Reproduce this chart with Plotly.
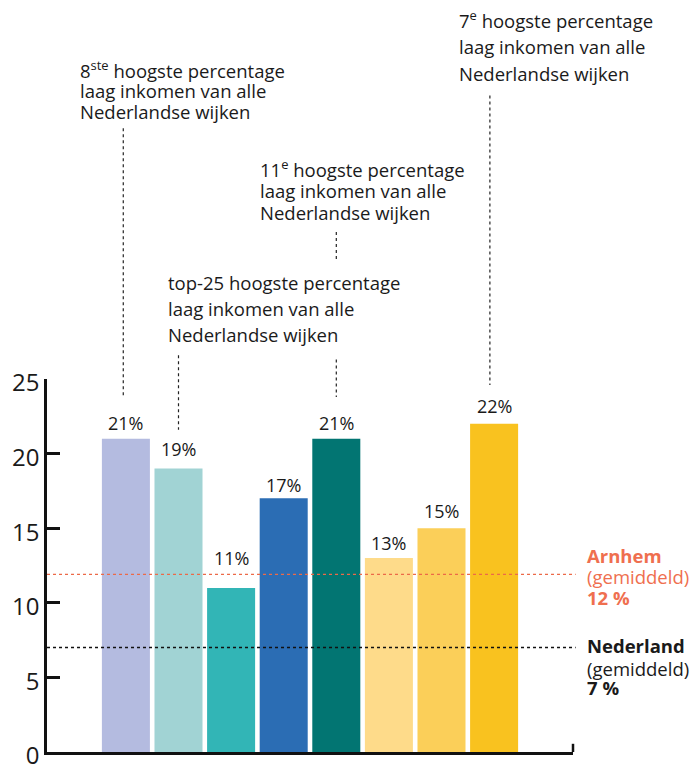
import plotly.graph_objects as go

# ---- data ----
positions = [0, 1, 2, 3, 4, 5, 6, 7]
values = [21, 19, 11, 17, 21, 13, 15, 22]
value_labels = ["21%", "19%", "11%", "17%", "21%", "13%", "15%", "22%"]
bar_colors = ["#b4bbe0", "#a1d3d4", "#32b5b6", "#2b6db4",
              "#027572", "#fedb8a", "#fbcf59", "#f9c21f"]
label_lift = [15.7, 20, 30.3, 13.8, 15.7, 15.5, 17.3, 18]  # px above bar
y_ticks = [0, 5, 10, 15, 20, 25]
arnhem_avg = 11.9
nederland_avg = 7

XMIN, XMAX = -1.5, 8.5
YMAX = 25

FONT = "Open Sans"
TXT = "#1a1a1a"
ORANGE = "#ef6f4f"


def xp(x):
    return (x - XMIN) / (XMAX - XMIN)


def yp(y):
    return y / YMAX


fig = go.Figure(go.Bar(
    x=positions, y=values, marker_color=bar_colors, marker_line_width=0,
    hoverinfo="skip",
))

annotations = []
shapes = []

# value labels above bars
for x, v, t, lift in zip(positions, values, value_labels, label_lift):
    annotations.append(dict(
        x=x, y=v, xref="x", yref="y", text=t, showarrow=False,
        xanchor="center", yanchor="middle", yshift=lift,
        font=dict(family=FONT, size=18, color=TXT)))

# callout texts (x in category units, y in value units, one entry per line)
callouts = [
    (-0.91, [(45.75, "8<sup>ste</sup> hoogste percentage"),
             (44.35, "laag inkomen van alle"),
             (42.95, "Nederlandse wijken")]),
    (6.29, [(49.1, "7<sup>e</sup> hoogste percentage"),
            (47.3, "laag inkomen van alle"),
            (45.5, "Nederlandse wijken")]),
    (2.51, [(39.1, "11<sup>e</sup> hoogste percentage"),
            (37.65, "laag inkomen van alle"),
            (36.15, "Nederlandse wijken")]),
    (0.76, [(31.5, "top-25 hoogste percentage"),
            (29.75, "laag inkomen van alle"),
            (28.0, "Nederlandse wijken")]),
]
for x, lines in callouts:
    for y, t in lines:
        annotations.append(dict(
            x=xp(x), y=yp(y), xref="paper", yref="paper", text=t,
            showarrow=False, xanchor="left", yanchor="middle",
            font=dict(family=FONT, size=18.5, color=TXT)))

# dotted connector lines (x in category units, y from/to in value units)
connectors = [
    (-0.05, 41.8, 23.8),
    (1.0, 26.6, 21.6),
    (4.0, 34.85, 32.85),
    (4.0, 26.3, 23.8),
    (6.92, 44.0, 24.6),
]
for x, y0, y1 in connectors:
    shapes.append(dict(type="line", xref="paper", yref="paper",
                       x0=xp(x), x1=xp(x), y0=yp(y0), y1=yp(y1),
                       line=dict(color="#222", width=1.2, dash="dot")))

# average reference lines
shapes.append(dict(type="line", xref="paper", yref="y", x0=0, x1=1.005,
                   y0=arnhem_avg, y1=arnhem_avg,
                   line=dict(color="#ec6a48", width=1.2, dash="dot")))
shapes.append(dict(type="line", xref="paper", yref="y", x0=0, x1=1.005,
                   y0=nederland_avg, y1=nederland_avg,
                   line=dict(color="#111", width=1.5, dash="dot")))

# small upward tick at the right end of the x axis
shapes.append(dict(type="line", xref="paper", yref="paper",
                   x0=1, x1=1, y0=0, y1=0.022,
                   line=dict(color="#111", width=2.5)))

side_labels = [
    (13.2, "<b>Arnhem</b>", ORANGE),
    (11.75, "(gemiddeld)", ORANGE),
    (10.35, "<b>12 %</b>", ORANGE),
    (7.17, "<b>Nederland</b>", TXT),
    (5.6, "(gemiddeld)", TXT),
    (4.3, "<b>7 %</b>", TXT),
]
for y, t, c in side_labels:
    annotations.append(dict(
        x=xp(8.73), y=yp(y), xref="paper", yref="paper", text=t,
        showarrow=False, xanchor="left", yanchor="middle",
        font=dict(family=FONT, size=18.5, color=c)))

fig.update_layout(
    width=692, height=765,
    margin=dict(l=47, r=119, t=379, b=13, autoexpand=False),
    paper_bgcolor="white", plot_bgcolor="white",
    bargap=0.087, showlegend=False,
    annotations=annotations, shapes=shapes,
    xaxis=dict(range=[XMIN, XMAX], showline=True, linecolor="#111",
               linewidth=2.5, showticklabels=False, ticks="",
               showgrid=False, zeroline=False, fixedrange=True,
               automargin=False),
    yaxis=dict(range=[0, YMAX], tickvals=y_ticks, ticks="inside",
               ticklen=13, tickwidth=2.5, tickcolor="#111",
               showline=True, linecolor="#111", linewidth=2.5,
               showgrid=False, zeroline=False, automargin=False,
               ticklabelshift=4, ticklabeloverflow="allow",
               tickfont=dict(family=FONT, size=24, color=TXT),
               fixedrange=True),
)

fig.write_html("out.html",
               config={"displayModeBar": False},
               post_script="document.body.style.margin='0';"
                           "document.body.style.overflow='hidden';")
